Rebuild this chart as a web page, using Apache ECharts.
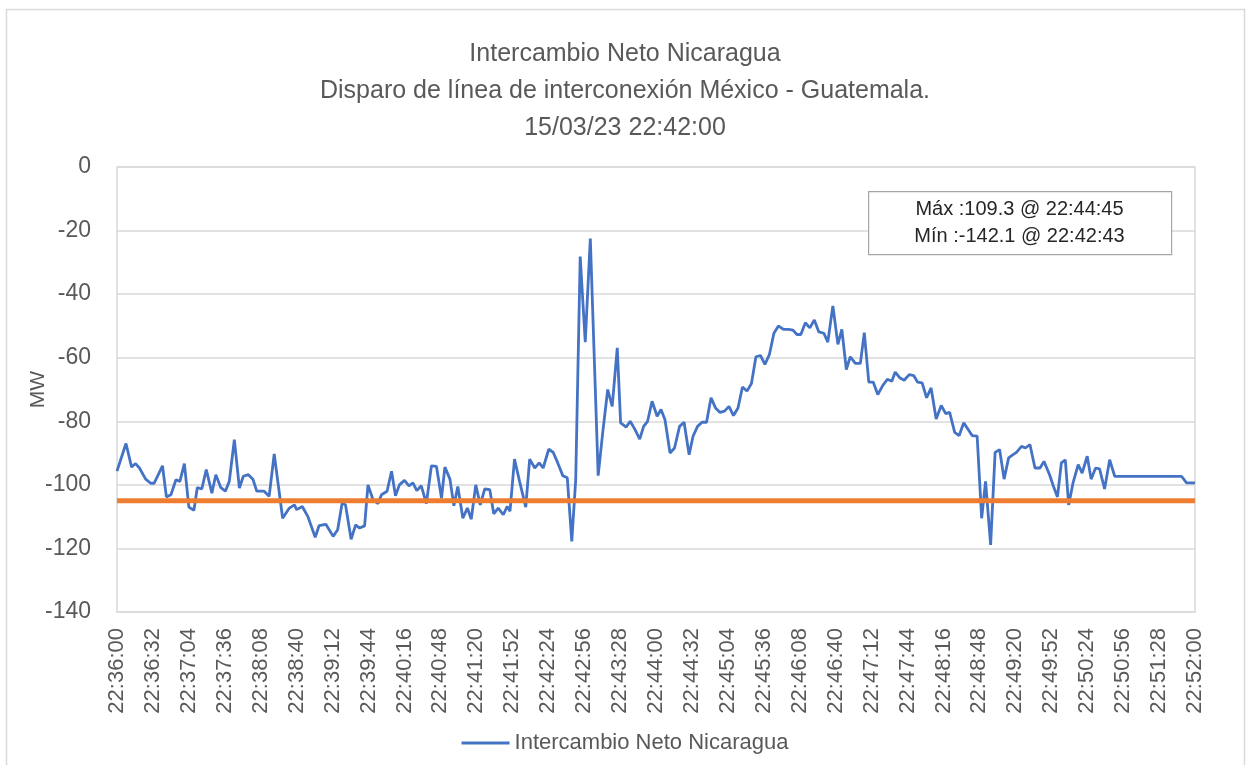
<!DOCTYPE html>
<html>
<head>
<meta charset="utf-8">
<script src="https://cdn.jsdelivr.net/npm/echarts@6/dist/echarts.min.js"></script>
<style>html,body{margin:0;padding:0;background:#fff}#c{width:1250px;height:765px}</style>
</head>
<body>
<div id="c"></div>
<script>
// ---- data (seconds after 22:36:00, MW) ----
const startClock = [22, 36, 0];
const timesSec = [0,8,13,16.5,20,25.5,30,33,40.5,44,48,52.5,56,60,64,68.5,71.5,75.5,79.5,84.5,88,92.5,96.5,100,104.5,109,112.5,117,121,124.5,131,135.5,140,147.5,153.5,158,160,165,170,176.5,180,186,
192.5,196.5,200.5,203.5,208.5,212.5,216,220.5,223.5,228,232.5,235.5,240.5,244.5,248,251.5,256,260,263.5,267,271,275.5,280,284.5,289,292,296.5,300,303.5,308,312,315.5,319.5,323.5,327.5,332,335.5,339.5,344,347.5,350,354,358.5,364,367.5,372,376,379.5,384.5,388.5,392.5,397,401,405,408.5,412.5,417,421.5,428.5,432.5,437,441,445.5,448.5,453.5,457,461,465.5,469,472.5,476.5,481,484.5,488,492.5,496.5,501,505,509.5,513,517,521,525,529,533,537,541,545,549,553,557,561,565,569,573,577,581,585,589,593.5,598,602,605.5,609,613,617,621,625,629.5,633,637.5,642,645.5,649.5,653,657.5,662,665.5,669.5,673.5,677.5,682,686,690,693,697,701,705.5,709.5,713,717,721,725,729.5,734,738,741.5,746,750,754,758,761.5,766,770,773.5,778,782,786,790,794,798,801,805.5,809,813,817.5,822,825.5,830.5,834,837.5,839,841,844.5,847.5,851.5,856,859.5,864,867.5,871.5,875,879.5,884,888.5,948,952.5,960];
const netMW = [-95.7,-87.0,-94.4,-93.3,-94.7,-98.2,-99.5,-99.5,-94.0,-103.8,-103.1,-98.4,-98.9,-93.3,-107,-108,-100.9,-101.3,-95.2,-102.6,-96.8,-100.9,-102,-98.9,-85.8,-101,-97.3,-96.8,-98.2,-102,-102,-103.6,-90.3,-110.5,-107.3,-106.3,-107.8,-106.8,-110,-116.5,-112.8,-112.4,
-116.2,-114.1,-105.7,-106.3,-117.1,-112.6,-113.6,-112.9,-100,-104.7,-105.9,-103.1,-102,-95.7,-103.4,-100,-98.6,-100.3,-99.4,-101.8,-100.3,-105.9,-94.0,-94.2,-104.2,-94.4,-98.2,-106.6,-100.5,-110.5,-107.3,-110.8,-100,-106.3,-101.3,-101.5,-109.1,-107.3,-109.4,-106.8,-108.3,-91.9,-98.9,-107,-91.9,-94.7,-93.1,-94.7,-88.8,-89.8,-93.1,-97.1,-97.8,-117.8,-98.4,-28.2,-55.1,-22.5,-97.1,-83.7,-70,-75.3,-56.9,-80.5,-81.8,-80,-82.4,-85.6,-81.6,-80,-73.7,-78.4,-76.3,-79.5,-90,-88.4,-81.6,-80.3,-90.5,-84.7,-81.6,-80.3,-80.3,-72.6,-75.8,-77.2,-76.8,-75.3,-78.2,-75.8,-69.2,-70.5,-68.1,-59.7,-59.3,-62.1,-59,-52.3,-50,-51.1,-51.1,-51.3,-52.7,-52.7,-49,-50.6,-48.1,-51.9,-52.3,-55.1,-43.7,-55.8,-51.1,-63.7,-59.7,-61.8,-61.8,-52.1,-67.7,-67.7,-71.6,-68.7,-66.8,-67.4,-64.5,-66.3,-67.1,-65.3,-65.6,-67.7,-67.9,-72.6,-69.5,-79.3,-75,-77.6,-77.2,-83.5,-84.5,-80.5,-82.6,-84.5,-84.7,-110.5,-98.9,-118.9,-89.8,-88.9,-98.2,-91.5,-90.5,-89.8,-87.9,-88.4,-87.3,-94.7,-94.7,-92.6,-96.8,-100.5,-103.8,-103.8,-93.1,-92.1,-106.3,-99.2,-93.6,-96.3,-91.0,-98.2,-94.7,-95,-101.3,-92.1,-97.3,-97.3,-99.4,-99.4];
const thresholdMW = -105;
const xRange = [0, 960];
const xTickStep = 32;
const yTicks = [0, -20, -40, -60, -80, -100, -120, -140];
const seriesName = 'Intercambio Neto Nicaragua';
const titleLines = ['Intercambio Neto Nicaragua', 'Disparo de línea de interconexión México - Guatemala.', '15/03/23 22:42:00'];
const infoLines = ['Máx :109.3 @ 22:44:45', 'Mín :-142.1 @ 22:42:43'];

function clock(s) {
  let tot = startClock[0] * 3600 + startClock[1] * 60 + startClock[2] + Math.round(s);
  const h = Math.floor(tot / 3600), m = Math.floor((tot % 3600) / 60), ss = tot % 60;
  const p = n => String(n).padStart(2, '0');
  return p(h) + ':' + p(m) + ':' + p(ss);
}

const font = 'Liberation Sans';
const grey = '#595959';
const chart = echarts.init(document.getElementById('c'), null, {renderer: 'canvas'});
chart.setOption({
  backgroundColor: '#fff',
  animation: false,
  title: {
    text: titleLines.join('\n'),
    left: 'center', top: 31,
    textStyle: {fontFamily: font, fontSize: 25, fontWeight: 'normal', color: grey, lineHeight: 37}
  },
  legend: {
    data: [seriesName], bottom: 6, left: 'center',
    itemWidth: 48, itemHeight: 3, itemGap: 4,
    icon: 'rect',
    textStyle: {fontFamily: font, fontSize: 22, color: grey}
  },
  grid: {left: 117, right: 55, top: 167, bottom: 153, show: true, borderColor: '#d9d9d9', borderWidth: 1.5},
  xAxis: {
    type: 'value', min: xRange[0], max: xRange[1], interval: xTickStep,
    axisLine: {show: false}, axisTick: {show: false}, splitLine: {show: false},
    axisLabel: {rotate: 90, formatter: v => clock(v), fontFamily: font, fontSize: 22, color: grey, margin: 16,
      showMinLabel: true, showMaxLabel: true, hideOverlap: false}
  },
  yAxis: {
    type: 'value', min: yTicks[yTicks.length - 1], max: yTicks[0], interval: 20,
    name: 'MW', nameLocation: 'middle', nameGap: 68, nameRotate: 90, nameMoveOverlap: false,
    nameTextStyle: {fontFamily: font, fontSize: 21, color: grey},
    axisLine: {show: false}, axisTick: {show: false},
    splitLine: {lineStyle: {color: '#d9d9d9', width: 1.5}},
    axisLabel: {fontFamily: font, fontSize: 23, color: grey, margin: 26}
  },
  series: [
    {
      name: seriesName, type: 'line', showSymbol: false, smooth: false,
      data: timesSec.map((t, i) => [t, netMW[i]]),
      lineStyle: {color: '#4472C4', width: 2.8}, itemStyle: {color: '#4472C4'}
    },
    {
      name: 'ref', type: 'line', showSymbol: false,
      data: [[xRange[0], thresholdMW], [xRange[1], thresholdMW]],
      lineStyle: {color: '#ED7D31', width: 5}, itemStyle: {color: '#ED7D31'}
    }
  ],
  graphic: [
    {type: 'rect', left: 4, top: 7, shape: {width: 1238, height: 790}, style: {fill: 'none', stroke: '#d9d9d9', lineWidth: 1.5}, silent: true},
    {type: 'rect', left: 868, top: 191, shape: {width: 303, height: 63}, style: {fill: '#fff', stroke: '#a6a6a6', lineWidth: 1.2}, z: 100},
    {type: 'text', x: 1019.5, y: 222.5, z: 101,
      style: {text: infoLines.join('\n'), align: 'center', verticalAlign: 'middle', fontFamily: font, fontSize: 20, lineHeight: 27, fill: '#262626'}}
  ]
});
</script>
</body>
</html>
